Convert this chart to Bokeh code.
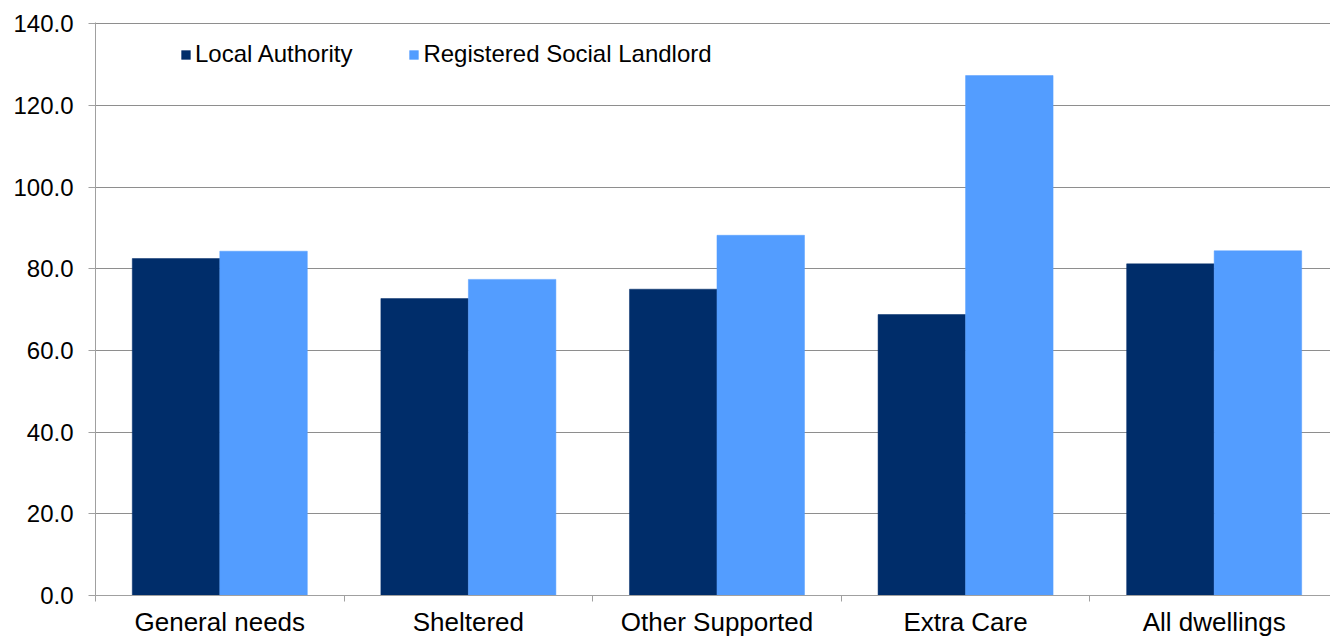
from bokeh.plotting import figure
from bokeh.models import Range1d, FixedTicker, NumeralTickFormatter, Legend, LegendItem, ColumnDataSource
from bokeh.embed import file_html
from bokeh.resources import INLINE

categories = ["General needs", "Sheltered", "Other Supported", "Extra Care", "All dwellings"]
local_authority = [82.5, 72.7, 75.0, 68.8, 81.2]
registered_social_landlord = [84.3, 77.4, 88.2, 127.3, 84.4]
y_ticks = [0, 20, 40, 60, 80, 100, 120, 140]
series_names = ["Local Authority", "Registered Social Landlord"]
colors = ["#002d6a", "#539dff"]

bar_w = 0.352
centers = [i + 0.5 for i in range(len(categories))]
boundaries = list(range(len(categories) + 1))

p = figure(width=1330, height=639, output_backend="svg", toolbar_location=None,
           x_range=Range1d(0, 4.968), y_range=Range1d(0, 140.3),
           min_border_left=95, min_border_right=0, min_border_top=22, min_border_bottom=0)
p.outline_line_color = None
p.background_fill_color = "white"

src = ColumnDataSource(dict(
    la_left=[c - bar_w for c in centers], la_right=centers,
    rsl_left=centers, rsl_right=[c + bar_w for c in centers],
    la=local_authority, rsl=registered_social_landlord))

r1 = p.quad(left="la_left", right="la_right", bottom=0, top="la", source=src,
            fill_color=colors[0], line_color=colors[0], line_width=0.5)
r2 = p.quad(left="rsl_left", right="rsl_right", bottom=0, top="rsl", source=src,
            fill_color=colors[1], line_color=colors[1], line_width=0.5)

# y axis
p.yaxis.ticker = FixedTicker(ticks=y_ticks)
p.yaxis.formatter = NumeralTickFormatter(format="0.0")
p.yaxis.major_label_text_font = "Liberation Sans"
p.yaxis.major_label_text_font_size = "24px"
p.yaxis.major_label_text_color = "black"
p.yaxis.axis_line_color = "#a0a0a0"
p.yaxis.major_tick_line_color = "#a0a0a0"
p.yaxis.major_tick_in = 0
p.yaxis.major_tick_out = 7
p.yaxis.minor_tick_line_color = None
p.yaxis.major_label_standoff = 15

# x axis
p.xaxis.ticker = FixedTicker(ticks=centers, minor_ticks=boundaries)
p.xaxis.major_label_overrides = {c: name for c, name in zip(centers, categories)}
p.xaxis.major_label_text_font = "Liberation Sans"
p.xaxis.major_label_text_font_size = "26px"
p.xaxis.major_label_text_color = "black"
p.xaxis.axis_line_color = "#a0a0a0"
p.xaxis.major_tick_line_color = None
p.xaxis.major_tick_in = 0
p.xaxis.major_tick_out = 6
p.xaxis.minor_tick_line_color = "#a0a0a0"
p.xaxis.minor_tick_in = 0
p.xaxis.minor_tick_out = 6
p.xaxis.major_label_standoff = 5

p.xgrid.grid_line_color = None
p.ygrid.ticker = FixedTicker(ticks=y_ticks)
p.ygrid.grid_line_color = "#8e8e8e"
p.ygrid.grid_line_width = 1

legend = Legend(items=[LegendItem(label=series_names[0], renderers=[r1]),
                       LegendItem(label=series_names[1], renderers=[r2])],
                orientation="horizontal", location=(85, 527))
legend.glyph_width = 11
legend.glyph_height = 11
legend.label_standoff = 4
legend.spacing = 56
legend.padding = 0
legend.margin = 0
legend.border_line_color = None
legend.background_fill_alpha = 0
legend.label_text_font = "Liberation Sans"
legend.label_text_font_size = "24px"
legend.label_text_color = "black"
legend.label_height = 24
p.add_layout(legend, "center")

open("out.html", "w").write(file_html(p, INLINE))
